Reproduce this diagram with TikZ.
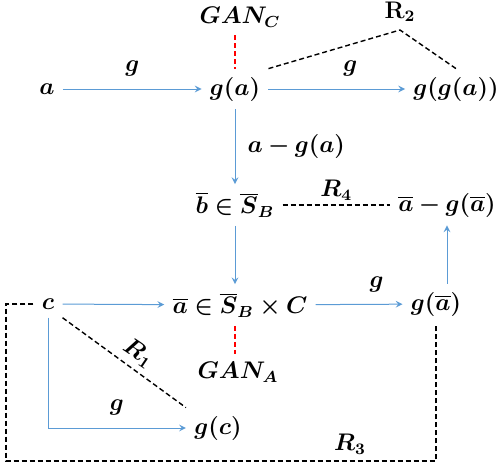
\documentclass[tikz,border=0pt]{standalone}
\usepackage{tikz}
\usepackage{bm}
\usepackage{amssymb}
\usepackage{amsmath}
\usetikzlibrary{arrows}
\usetikzlibrary{positioning}
\definecolor{lineblue}{RGB}{91,155,213}
\tikzstyle{arrow} = [->,>=stealth, draw=lineblue, line width=0.5pt]
\tikzstyle{rel} = [draw=black, line width=0.7pt, dash pattern=on 2.5pt off 1.5pt]
\tikzstyle{gan} = [draw=red, line width=0.9pt, dash pattern=on 2.5pt off 1.5pt]
\tikzstyle{term} = [inner sep=4pt, font=\large]

\begin{document}
\begin{tikzpicture}[x=0.5pt, y=-0.5pt, auto]
  \useasboundingbox (0,0) rectangle (504,468);

  % top row
  \node[term] (a) at (47,89) {$\bm{a}$};
  \node[term] (ga) at (235,89) {$\bm{g(a)}$};
  \node[term] (gga) at (456,89) {$\bm{g(g(a))}$};
  \node[term] (GANC) at (240,17) {$\bm{GAN_C}$};
  \node[term, anchor=south, font=\large\bfseries] (R2) at (400,30) {R$_{\bm{2}}$};

  % middle row
  \node[term] (bb) at (235,205) {$\bm{\overline{b}\in\overline{S}_B}$};
  \node[term] (diff) at (447,205) {$\bm{\overline{a}-g(\overline{a})}$};

  % lower rows
  \node[term] (c) at (48,304) {$\bm{c}$};
  \node[term] (abar) at (240,305) {$\bm{\overline{a}\in\overline{S}_B\times C}$};
  \node[term] (gabar) at (436,304) {$\bm{g(\overline{a})}$};
  \node[term] (GANA) at (238,372) {$\bm{GAN_A}$};
  \node[term] (gc) at (218,428) {$\bm{g(c)}$};
  \coordinate (r3) at (6,461);

  % arrows
  \draw[arrow] (a) -- node[term, above=2pt] {$\bm{g}$} (ga);
  \draw[arrow] (ga) -- node[term, above=2pt, pos=0.6] {$\bm{g}$} (gga);
  \draw[arrow] (ga) -- node[term, right=2pt] {$\bm{a-g(a)}$} (bb);
  \draw[arrow] (bb) -- (bb.south |- abar.north);
  \draw[arrow] (c) -- (abar);
  \draw[arrow] (abar) -- node[term, above=2pt, pos=0.7] {$\bm{g}$} (gabar);
  \draw[arrow] (gabar.north -| diff.south) -- (diff);
  \draw[arrow] (c.south) |- node[term, above=2pt, pos=0.75] {$\bm{g}$} (gc);

  % relations
  \draw[gan] (GANC.south -| ga.north) -- (ga.north);
  \draw[gan] (abar.south -| bb.south) -- (GANA.north -| bb.south);
  \draw[rel] (ga.north east) -- (R2.south) -- (gga.north);
  \draw[rel] (bb) -- node[term, above=-2pt] {$\bm{R_4}$} (diff);
  \draw[rel] (c.south east) -- node[term, pos=0.55, xshift=4pt, yshift=7pt, rotate=-34, inner sep=1pt, anchor=center] {$\bm{R_1}$} (gc.north west);
  \draw[rel] (c.west) -| (r3) -| node[term, above=-1pt, pos=0.4] {$\bm{R_3}$} (gabar.south);

\end{tikzpicture}
\end{document}
